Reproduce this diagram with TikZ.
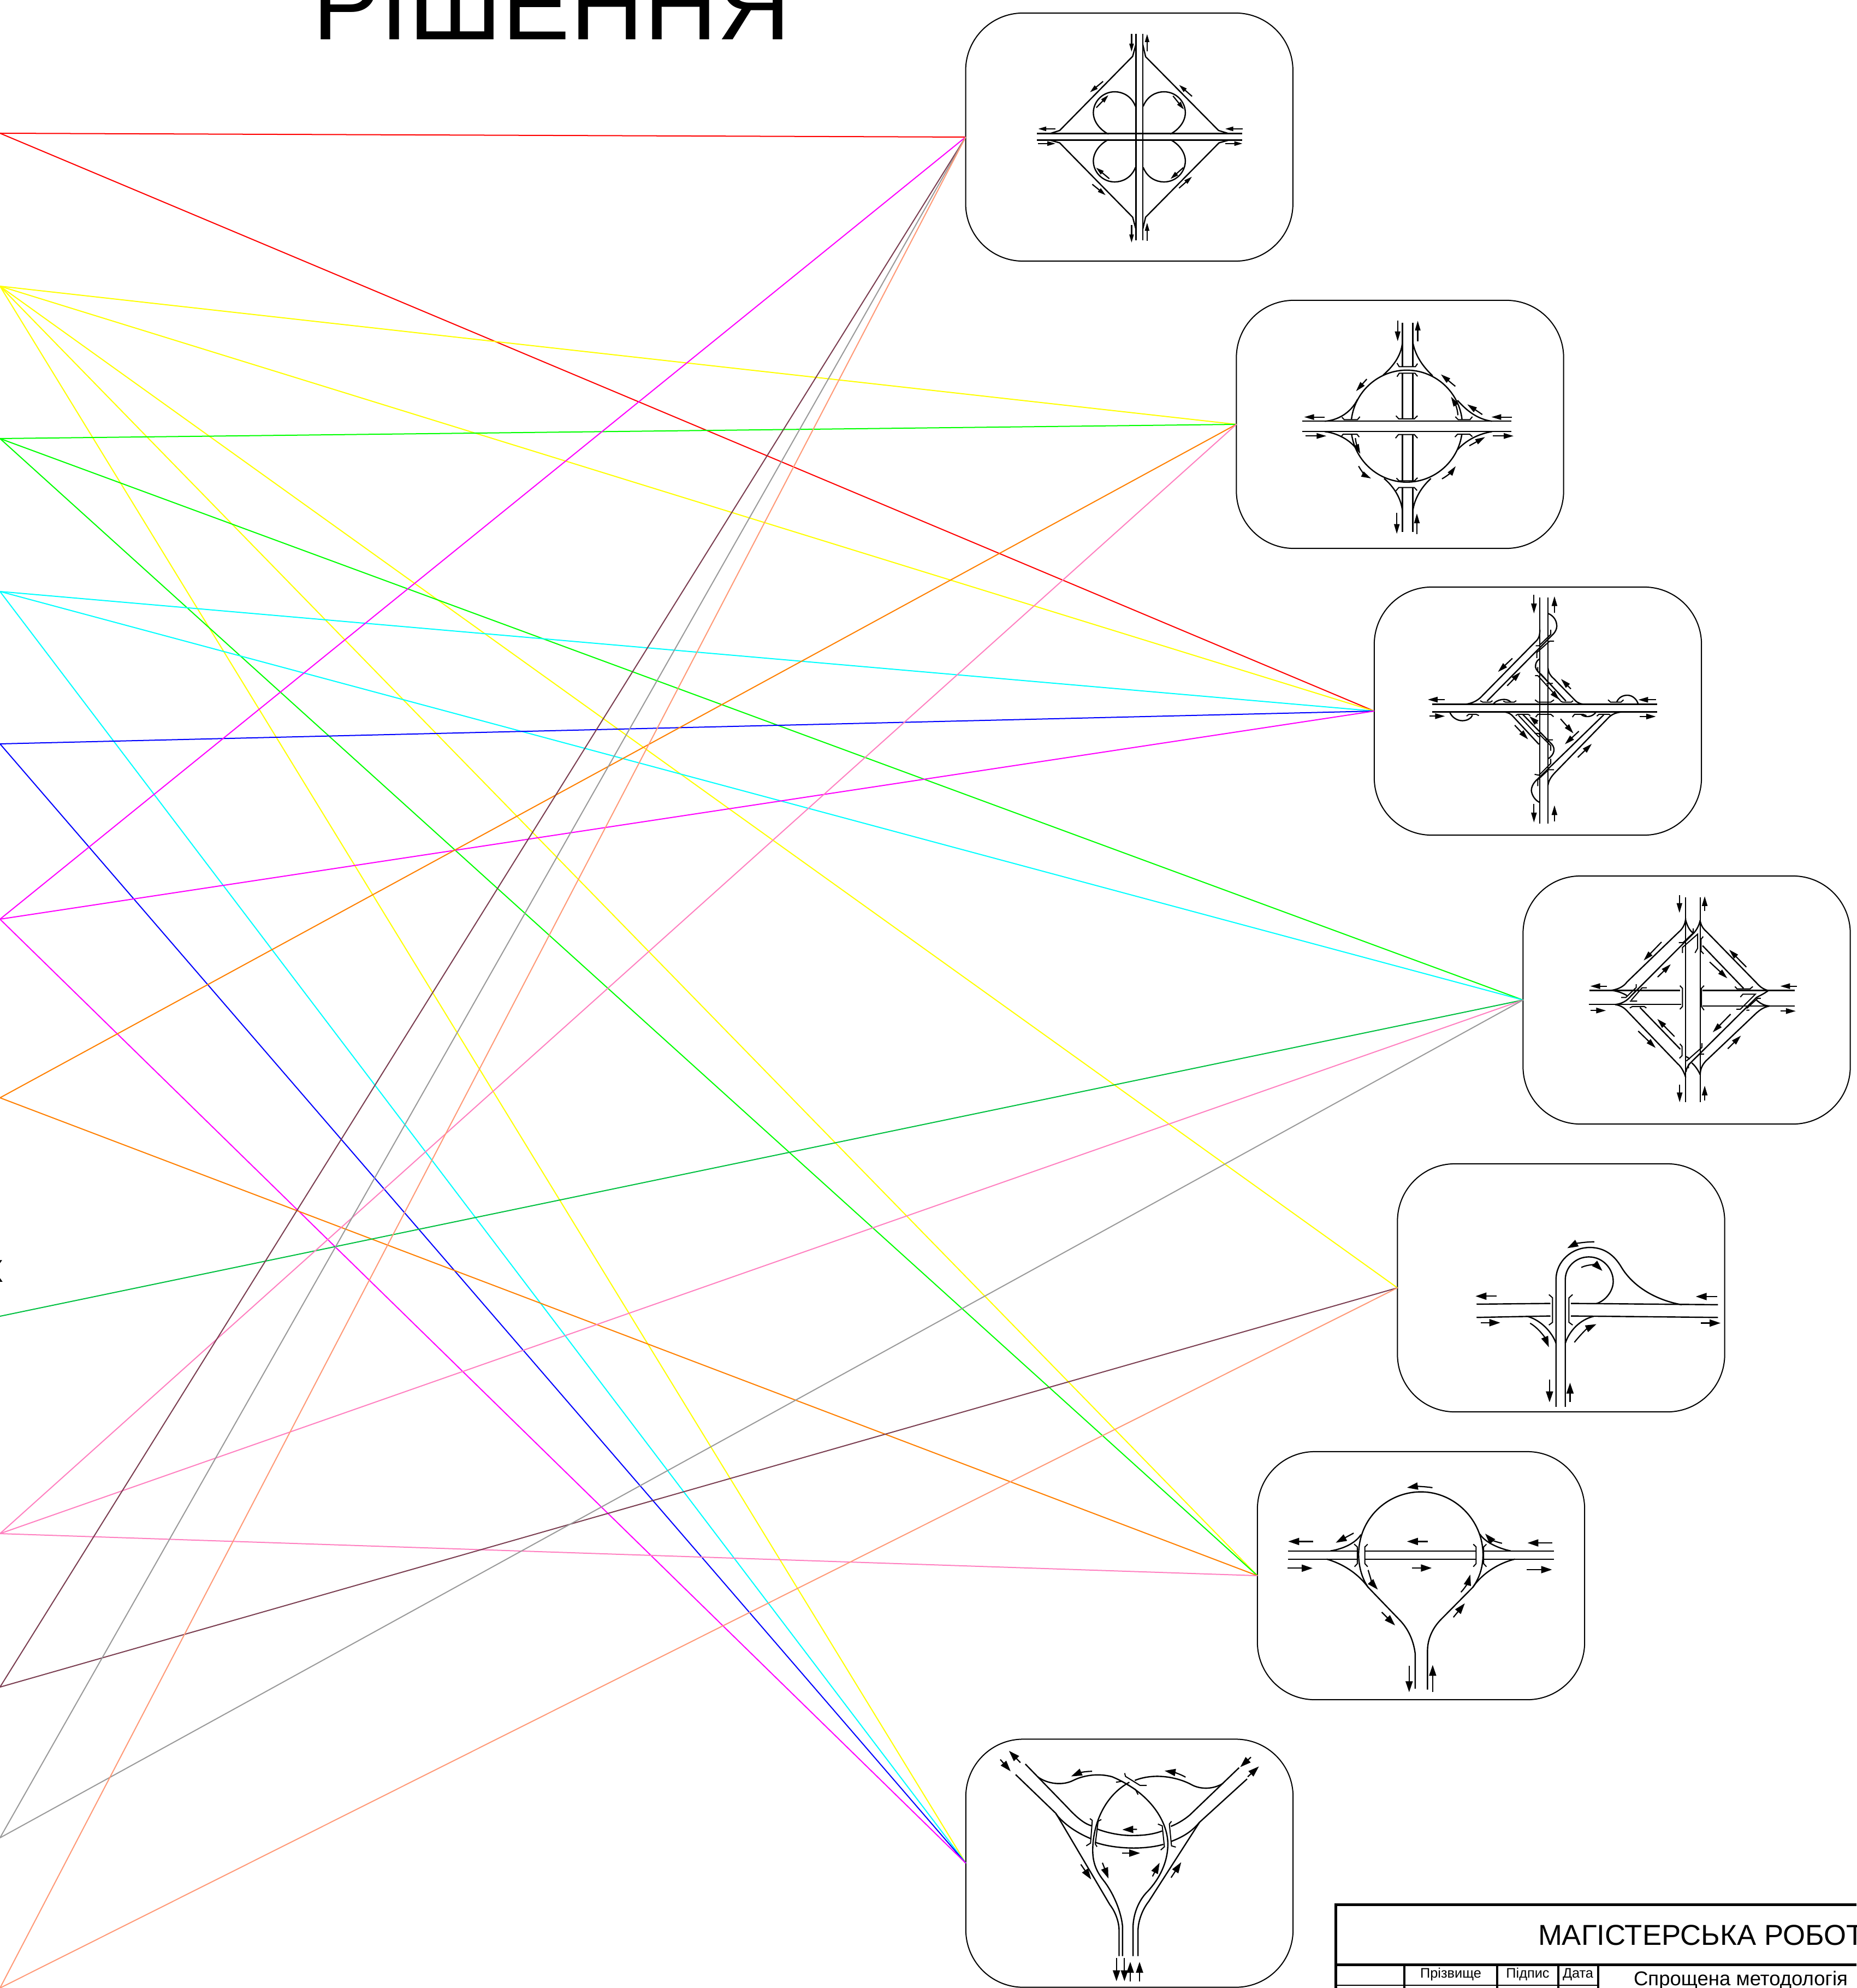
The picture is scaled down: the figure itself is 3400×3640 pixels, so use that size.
\documentclass[tikz,border=0pt]{standalone}
\usepackage{fontspec}
\setmainfont{Liberation Sans}
\usetikzlibrary{arrows.meta}
\definecolor{cRed}{HTML}{FF0000}
\definecolor{cYellow}{HTML}{FFFF00}
\definecolor{cGreen}{HTML}{00FF00}
\definecolor{cCyan}{HTML}{00FFFF}
\definecolor{cBlue}{HTML}{0000FF}
\definecolor{cMagenta}{HTML}{FF00FF}
\definecolor{cOrange}{HTML}{FF7F00}
\definecolor{cGreenD}{HTML}{00C040}
\definecolor{cPink}{HTML}{FF80C0}
\definecolor{cBrown}{HTML}{7A3D50}
\definecolor{cGray}{HTML}{999999}
\definecolor{cSalmon}{HTML}{FF9977}
\tikzset{
  link/.style={line width=0.02cm},
  panel/.style={draw=black,line width=0.02cm,rounded corners=1.05cm,minimum width=5.99cm,minimum height=4.54cm,inner sep=0pt,outer sep=0pt},
  zoomed/.style={x=0.003954cm,y=-0.003333cm},
  road/.style={draw=black,line width=0.024cm},
  thin road/.style={draw=black,line width=0.02cm},
  arS/.style={draw=black,line width=0.022cm,-{Triangle[length=0.15cm,width=0.08cm]}},
  arM/.style={draw=black,line width=0.022cm,-{Triangle[length=0.18cm,width=0.10cm]}},
  arL/.style={draw=black,line width=0.022cm,-{Triangle[length=0.2cm,width=0.13cm]}},
  lbl/.style={inner sep=0pt,outer sep=0pt,text=black},
  frame/.style={draw=black,line width=0.05cm},
}
\begin{document}
\begin{tikzpicture}[x=0.01cm,y=-0.01cm]
\useasboundingbox (0,0) rectangle (3400,3640);
\clip (0,0) rectangle (3400,3640);
% free ends on the left edge
\coordinate (sRed) at (0,244);
\coordinate (sYel) at (0,524);
\coordinate (sGrn) at (0,803);
\coordinate (sCya) at (0,1083);
\coordinate (sBlu) at (0,1362);
\coordinate (sMag) at (0,1683);
\coordinate (sOra) at (0,2010);
\coordinate (sGrD) at (0,2410);
\coordinate (sPnk) at (0,2808);
\coordinate (sBrn) at (0,3089);
\coordinate (sGry) at (0,3365);
\coordinate (sSal) at (0,3640);
% panels
\node[panel] (b1) at (2068.2,251) {};
\node[panel] (b2) at (2564,777) {};
\node[panel] (b3) at (2816.5,1302) {};
\node[panel] (b4) at (3089,1831) {};
\node[panel] (b5) at (2859,2358) {};
\node[panel] (b6) at (2602.5,2885) {};
\node[panel] (b7) at (2068.5,3411.5) {};
% connectors
\draw[link,cRed] (sRed)--(b1.west);
\draw[link,cRed] (sRed)--(b3.west);
\foreach \t in {b2,b3,b5,b6,b7} \draw[link,cYellow] (sYel)--(\t.west);
\foreach \t in {b2,b4,b6} \draw[link,cGreen] (sGrn)--(\t.west);
\foreach \t in {b3,b4,b7} \draw[link,cCyan] (sCya)--(\t.west);
\foreach \t in {b3,b7} \draw[link,cBlue] (sBlu)--(\t.west);
\foreach \t in {b1,b3,b7} \draw[link,cMagenta] (sMag)--(\t.west);
\foreach \t in {b2,b6} \draw[link,cOrange] (sOra)--(\t.west);
\draw[link,cGreenD] (sGrD)--(b4.west);
\foreach \t in {b2,b4,b6} \draw[link,cPink] (sPnk)--(\t.west);
\foreach \t in {b1,b5} \draw[link,cBrown] (sBrn)--(\t.west);
\foreach \t in {b1,b4} \draw[link,cGray] (sGry)--(\t.west);
\foreach \t in {b1,b5} \draw[link,cSalmon] (sSal)--(\t.west);
% title and stray letter
\node[lbl,anchor=base west,font=\fontsize{53.1pt}{60pt}\selectfont] (title) at (572,73) {РІШЕННЯ};
\node[lbl,anchor=base east,font=\fontsize{21.4pt}{24pt}\selectfont] (frag) at (6,2347) {х};
% ------------------ diagram 1
\begin{scope}[shift={(1760,0)},zoomed]
\draw[road] (810,185)--(810,1322) (842,185)--(842,1322) (352,735)--(1302,735) (352,771)--(1302,771);
\draw[road] (810,245)--(795,310)--(457,718)--(412,735);
\draw[road] (842,245)--(855,312)--(1193,718)--(1240,735);
\draw[road] (412,771)--(457,786)--(795,1195)--(810,1260);
\draw[road] (1240,771)--(1195,786)--(855,1195)--(842,1260);
\draw[road] (808,585) .. controls (790,530) and (750,505) .. (712,505) .. controls (655,505) and (613,560) .. (613,620) .. controls (613,670) and (645,715) .. (683,738);
\draw[road] (844,585) .. controls (862,530) and (902,505) .. (940,505) .. controls (997,505) and (1039,560) .. (1039,620) .. controls (1039,670) and (1007,715) .. (969,738);
\draw[road] (808,921) .. controls (790,976) and (750,1001) .. (712,1001) .. controls (655,1001) and (613,946) .. (613,886) .. controls (613,836) and (645,791) .. (683,768);
\draw[road] (844,921) .. controls (862,976) and (902,1001) .. (940,1001) .. controls (997,1001) and (1039,946) .. (1039,886) .. controls (1039,836) and (1007,791) .. (969,768);
\foreach \a/\b/\c/\d in {790/187/790/285,862/282/862/187,438/709/357/709,1304/709/1223/709,357/790/438/790,1223/790/1304/790,790/1238/790/1335,862/1325/862/1225,658/448/597/508,627/592/683/523,1070/530/1010/467,982/528/1033/603,608/1014/670/1074,687/983/625/922,1010/1035/1070/972,1030/922/970/985}
  \draw[arS] (\a,\b)--(\c,\d);
\end{scope}
% ------------------ diagram 2
\begin{scope}[shift={(2260,530)},zoomed]
\draw[road] (315,725)--(1285,725) (315,782)--(1285,782);
\draw[road] (780,183)--(780,425) (828,183)--(828,425) (780,461)--(780,712) (828,461)--(828,712) (780,798)--(780,1053) (828,798)--(828,1053) (780,1090)--(780,1335) (828,1090)--(828,1335);
\draw[road] (800,752) ++(187:258 and 308) arc[x radius=258,y radius=308,start angle=187,end angle=353];
\draw[road] (800,752) ++(172:258 and 308) arc[x radius=258,y radius=308,start angle=172,end angle=8];
\draw[road] (780,290) .. controls (775,370) and (730,430) .. (690,472);
\draw[road] (420,725) .. controls (480,720) and (540,680) .. (572,605);
\draw[road] (828,290) .. controls (840,370) and (880,430) .. (920,475);
\draw[road] (1195,725) .. controls (1130,715) and (1080,670) .. (1035,610);
\draw[road] (420,782) .. controls (480,790) and (540,830) .. (570,882);
\draw[road] (780,1220) .. controls (775,1150) and (740,1085) .. (695,1040);
\draw[road] (828,1220) .. controls (835,1150) and (870,1085) .. (912,1040);
\draw[road] (1195,782) .. controls (1130,795) and (1075,830) .. (1035,882);
\draw[thin road] (755,405)--(765,425)--(840,425)--(850,408) (755,480)--(765,461)--(838,461)--(850,478);
\draw[thin road] (750,695)--(763,712)--(835,712)--(850,695) (500,703)--(510,716)--(572,716)--(583,700) (1025,700)--(1038,716)--(1093,716)--(1104,700);
\draw[thin road] (748,818)--(762,798)--(835,798)--(850,818) (495,812)--(505,797)--(570,797)--(580,812) (1023,812)--(1035,797)--(1092,797)--(1104,810);
\draw[thin road] (752,1038)--(765,1053)--(835,1053)--(850,1036) (750,1108)--(763,1090)--(835,1090)--(848,1106);
\foreach \a/\b/\c/\d in {758/170/758/285,851/285/851/172,420/702/325/702,1288/702/1192/702,330/806/428/806,1198/806/1295/806,754/1228/754/1345,847/1345/847/1232,615/493/565/560,1025/533/958/467,1150/688/1080/632,1090/860/1163/812}
  \draw[arM] (\a,\b)--(\c,\d);
\draw[arM] (1037,692) .. controls (1035,650) and (1020,620) .. (1005,590);
\draw[arM] (562,818) .. controls (565,850) and (575,880) .. (585,905);
\draw[arM] (577,972) .. controls (590,1000) and (610,1025) .. (635,1040);
\draw[arM] (963,1042) .. controls (990,1025) and (1010,1000) .. (1027,972);
\end{scope}
% ------------------ diagram 3
\begin{scope}[shift={(2510,1060)},zoomed]
\draw[road] (784,103)--(784,1345) (822,103)--(822,1345) (285,690)--(1327,690) (285,732)--(1327,732);
\draw[road] (435,690) .. controls (480,685) and (505,660) .. (520,640) -- (760,350) .. controls (780,330) and (785,310) .. (784,280);
\draw[road] (540,672) -- (845,305) .. controls (862,285) and (865,260) .. (862,250) .. controls (860,225) and (845,200) .. (822,190);
\draw[thin road] (765,368)--(780,368)--(835,305)--(835,280) (770,435)--(770,405)--(830,342)--(850,342);
\draw[road] (822,490) .. controls (825,520) and (835,535) .. (850,550) -- (945,665) .. controls (960,685) and (975,690) .. (1005,690);
\draw[road] (905,672) -- (790,525) .. controls (770,505) and (760,490) .. (765,470) .. controls (768,455) and (775,445) .. (784,440);
\draw[thin road] (775,485)--(775,510)--(845,595) (762,532)--(775,532)--(880,670) (815,575)--(845,575);
\draw[thin road] (762,665)--(775,678)--(835,678)--(850,665) (508,670)--(520,678)--(555,678)--(565,670) (615,672)--(625,678)--(665,678)--(675,670) (880,672)--(890,678)--(930,678)--(938,670) (1100,665)--(1112,678)--(1160,678)--(1172,665);
\draw[road] (568,690) .. controls (580,665) and (630,650) .. (650,678);
\draw[road] (1140,678) .. controls (1150,650) and (1170,640) .. (1190,640) .. controls (1215,640) and (1235,665) .. (1240,690);
\draw[road] (367,732) .. controls (375,760) and (400,780) .. (425,780) .. controls (445,780) and (465,770) .. (472,750);
\draw[thin road] (445,755)--(455,745)--(490,745)--(502,752);
\draw[road] (620,732) .. controls (640,735) and (650,745) .. (655,750) -- (780,910);
\draw[road] (705,745) -- (840,910) .. controls (855,930) and (855,965) .. (822,990);
\draw[thin road] (672,752)--(682,745)--(730,745)--(740,752) (765,760)--(775,745)--(835,745)--(848,758) (760,850)--(778,850)--(835,918)--(835,945) (805,885)--(845,885) (685,750)--(780,870);
\draw[thin road] (935,760)--(945,745)--(985,745)--(1000,752) (1048,755)--(1058,745)--(1105,745)--(1112,752);
\draw[road] (975,745) .. controls (990,762) and (1025,765) .. (1045,732);
\draw[road] (1080,748) -- (775,1100) .. controls (750,1125) and (745,1150) .. (745,1165) .. controls (748,1195) and (765,1220) .. (784,1230);
\draw[road] (1165,732) .. controls (1130,735) and (1115,750) .. (1105,760) -- (855,1065) .. controls (835,1090) and (825,1110) .. (822,1135);
\draw[thin road] (760,1075)--(780,1080)--(835,1015)--(835,990) (775,1140)--(775,1105)--(825,1050)--(850,1050);
\foreach \a/\b/\c/\d in {757/88/757/190,852/185/852/95,345/664/265/664,1322/665/1240/665,272/755/345/755,1247/757/1322/757,757/1237/757/1340,852/1333/852/1245,657/437/590/512,633/588/695/512,928/605/882/550,845/628/875/665,668/805/730/883,773/795/735/755,880/770/940/850,965/838/900/910,960/982/1025/907}
  \draw[arM] (\a,\b)--(\c,\d);
\end{scope}
% ------------------ diagram 4
\begin{scope}[shift={(2780,1590)},zoomed]
\draw[road] (777,160)--(777,1285) (844,160)--(844,1285);
\draw[road] (330,671)--(752,671) (328,749)--(755,749) (855,672)--(1282,672) (855,757)--(1282,757);
\draw[thin road] (750,645)--(762,660)--(762,760)--(750,775) (862,645)--(850,660)--(850,760)--(862,780);
\draw[road] (432,671) .. controls (465,665) and (490,650) .. (505,625) -- (745,350) .. controls (760,335) and (775,310) .. (777,275);
\draw[road] (450,749) .. controls (480,745) and (505,730) .. (525,700) -- (815,355) .. controls (830,335) and (840,310) .. (844,285);
\draw[road] (777,285) .. controls (785,320) and (795,340) .. (810,355);
\draw[road] (432,671) .. controls (460,675) and (485,685) .. (505,700);
\draw[thin road] (478,710)--(500,710)--(548,655)--(548,637) (518,730)--(552,730) (525,725)--(575,657)--(597,657);
\draw[road] (844,290) .. controls (850,320) and (860,335) .. (875,350) -- (1105,630) .. controls (1120,650) and (1135,665) .. (1160,672);
\draw[road] (1160,672) .. controls (1140,690) and (1120,700) .. (1105,710) -- (795,1075) .. controls (785,1090) and (780,1105) .. (778,1120);
\draw[road] (855,425) -- (1045,660);
\draw[thin road] (1005,650)--(1015,663)--(1075,663)--(1088,650);
\draw[road] (1165,757) .. controls (1135,765) and (1120,780) .. (1105,795) -- (870,1060) .. controls (855,1080) and (845,1100) .. (844,1135);
\draw[road] (450,749) .. controls (480,755) and (495,770) .. (510,790) -- (740,1075) .. controls (760,1095) and (772,1130) .. (777,1150);
\draw[road] (565,765) -- (752,995);
\draw[thin road] (518,768)--(530,760)--(585,760)--(595,768) (750,965)--(760,980)--(760,1030)--(748,1045);
\draw[road] (844,1135) .. controls (835,1110) and (820,1085) .. (805,1070) (777,1035) .. controls (785,1038) and (790,1042) .. (795,1050);
\draw[thin road] (780,1060)--(852,985)--(852,962) (790,1100)--(790,1080)--(840,1022)--(862,1022);
\draw[thin road] (745,408)--(765,408)--(812,355)--(812,330) (762,465)--(762,435)--(832,362)--(832,440)--(820,465) (858,375)--(848,390)--(848,455)--(860,470);
\draw[thin road] (1030,708)--(1042,692)--(1100,692)--(1030,775)--(1012,775) (1058,780)--(1072,780) (1060,770)--(1110,715)--(1125,715);
\draw[road] (1105,725) .. controls (1125,745) and (1140,755) .. (1165,757);
\foreach \a/\b/\c/\d in {748/147/748/245,865/235/865/153,412/648/335/648,1292/648/1215/648,337/782/408/782,1217/785/1287/785,749/1190/749/1287,865/1278/865/1195,665/405/582/507,647/598/708/527,1058/543/978/447,888/515/970/605,985/802/902/902,972/992/1033/920,557/895/638/988,725/925/645/828}
  \draw[arM] (\a,\b)--(\c,\d);
\end{scope}
% ------------------ diagram 5
\begin{scope}[shift={(2550,2120)},zoomed]
\draw[road] (758,1370)--(758,670) .. controls (758,570) and (830,493) .. (915,493) .. controls (985,493) and (1030,540) .. (1060,600) .. controls (1110,700) and (1210,780) .. (1340,808);
\draw[road] (801,1370)--(801,670) .. controls (801,600) and (850,545) .. (910,545) .. controls (975,545) and (1023,610) .. (1023,680) .. controls (1023,730) and (990,785) .. (945,802);
\draw[road] (390,805)--(732,801) (390,878)--(732,870) (827,801)--(945,802)--(1508,808) (827,870)--(1508,878);
\draw[road] (628,873) .. controls (690,895) and (740,960) .. (758,1020);
\draw[road] (932,872) .. controls (870,890) and (820,950) .. (801,1020);
\draw[thin road] (725,752)--(742,770)--(742,905)--(725,920) (835,752)--(818,770)--(818,905)--(835,920);
\foreach \a/\b/\c/\d in {483/761/385/761,1505/763/1405/763,410/907/500/907,1430/909/1520/909,728/1220/728/1345,823/1342/823/1237}
  \draw[arL] (\a,\b)--(\c,\d);
\draw[arL] (935,462) .. controls (890,462) and (850,472) .. (810,497);
\draw[arL] (875,603) .. controls (905,585) and (945,590) .. (973,622);
\draw[arL] (638,910) .. controls (675,935) and (705,985) .. (725,1042);
\draw[arL] (843,1015) .. controls (870,975) and (900,940) .. (945,915);
\end{scope}
% ------------------ diagram 6
\begin{scope}[shift={(2300,2650)},zoomed]
\draw[road] (738,1328)--(738,1135) .. controls (730,1060) and (705,1000) .. (670,955) -- (520,770) .. controls (490,720) and (476,650) .. (476,590) .. controls (476,390) and (610,245) .. (765,245) .. controls (920,245) and (1052,400) .. (1052,590) .. controls (1052,660) and (1035,720) .. (1005,770) -- (855,950) .. controls (815,1000) and (795,1060) .. (795,1120)--(795,1333);
\draw[road] (150,570)--(468,570) (150,615)--(468,615) (505,570)--(1020,570) (505,615)--(1020,615) (1058,570)--(1380,570) (1058,615)--(1380,615);
\draw[thin road] (455,532)--(470,548)--(470,640)--(457,657) (518,533)--(505,548)--(505,640)--(518,657) (1007,533)--(1020,548)--(1020,640)--(1007,657) (1068,533)--(1055,548)--(1055,640)--(1068,657);
\draw[road] (345,570) .. controls (400,560) and (460,530) .. (487,480);
\draw[road] (328,615) .. controls (400,640) and (470,690) .. (520,770);
\draw[road] (1180,570) .. controls (1120,555) and (1060,520) .. (1038,478);
\draw[road] (1200,615) .. controls (1130,635) and (1050,690) .. (1005,770);
\foreach \a/\b/\c/\d in {265/518/150/518,1372/526/1258/526,147/665/263/665,1255/673/1372/673,797/518/700/518,723/664/815/664,710/1202/710/1347,819/1345/819/1197,453/472/370/525,583/907/645/980,915/935/968/858}
  \draw[arL] (\a,\b)--(\c,\d);
\draw[arL] (1140,528) .. controls (1110,520) and (1085,505) .. (1062,475);
\draw[arL] (520,675) .. controls (530,715) and (540,750) .. (565,783);
\draw[arL] (950,797) .. controls (975,765) and (985,735) .. (993,700);
\draw[arL] (818,222) .. controls (780,215) and (740,215) .. (700,222);
\end{scope}
% ------------------ diagram 7
\begin{scope}[shift={(1760,3180)},zoomed]
\draw[road] (253,208)--(440,422)--(690,925) .. controls (720,970) and (732,1030) .. (732,1060)--(732,1207);
\draw[road] (298,150)--(490,385) .. controls (540,450) and (575,480) .. (605,490);
\draw[road] (630,507) .. controls (690,535) and (760,545) .. (800,543) .. controls (850,543) and (895,535) .. (932,518);
\draw[road] (972,493) .. controls (1010,475) and (1040,450) .. (1060,430)--(1288,170);
\draw[road] (440,425) .. controls (480,485) and (540,530) .. (600,560);
\draw[road] (620,580) .. controls (680,605) and (750,612) .. (800,612) .. controls (850,612) and (900,605) .. (937,592);
\draw[road] (975,575) .. controls (1030,550) and (1070,520) .. (1105,470)--(1325,232);
\draw[road] (1105,470) -- (870,905) .. controls (840,950) and (822,1010) .. (820,1060)--(820,1207);
\draw[road] (748,1207)--(748,1040) .. controls (740,950) and (700,850) .. (660,790) .. controls (620,730) and (610,680) .. (610,620) .. controls (612,470) and (670,320) .. (780,250);
\draw[road] (797,1207)--(797,1040) .. controls (800,960) and (830,890) .. (865,850) .. controls (920,780) and (958,690) .. (958,590) .. controls (958,470) and (880,310) .. (700,220) .. controls (640,200) and (570,210) .. (520,240) .. controls (470,270) and (400,260) .. (355,220);
\draw[road] (1215,255) .. controls (1170,290) and (1110,290) .. (1070,265) .. controls (1010,225) and (900,195) .. (805,240);
\draw[thin road] (597,450)--(608,460)--(600,585)--(580,600) (650,455)--(635,465)--(622,590)--(630,605) (912,480)--(932,490)--(942,605)--(925,623) (975,465)--(965,480)--(975,600)--(995,607);
\draw[thin road] (758,200)--(762,218)--(830,268)--(860,268) (718,250)--(745,245)--(808,290)--(820,318);
\foreach \a/\b/\c/\d in {275/142/222/77,182/125/230/190,1343/112/1293/167,1328/220/1380/163,815/509/747/511,746/640/830/640,555/702/603/785,655/693/683/780,887/768/920/693,973/775/1020/690,720/1218/720/1345,757/1218/757/1345,784/1345/784/1238,827/1345/827/1238}
  \draw[arL] (\a,\b)--(\c,\d);
\draw[arL] (607,190) .. controls (570,190) and (545,200) .. (510,218);
\draw[arL] (1040,222) .. controls (1015,205) and (985,195) .. (943,187);
\end{scope}
% ------------------ title block
\draw[frame] (3400,3487)--(2446,3487)--(2446,3640);
\draw[frame] (2446,3597)--(3400,3597);
\draw[line width=0.035cm] (2572,3597)--(2572,3640) (2742,3597)--(2742,3640) (2854,3597)--(2854,3640) (2927,3597)--(2927,3640);
\draw[line width=0.025cm] (2446,3635)--(2927,3635);
\node[lbl,anchor=base west,font=\fontsize{15pt}{18pt}\selectfont] (tbA) at (2817,3561) {МАГІСТЕРСЬКА РОБОТА};
\node[lbl,font=\fontsize{7.2pt}{9pt}\selectfont] (tbB) at (2657,3615) {Прізвище};
\node[lbl,font=\fontsize{7.2pt}{9pt}\selectfont] (tbC) at (2798,3615) {Підпис};
\node[lbl,font=\fontsize{7.2pt}{9pt}\selectfont] (tbD) at (2890,3615) {Дата};
\node[lbl,anchor=base west,font=\fontsize{10.4pt}{12pt}\selectfont] (tbE) at (2992,3635) {Спрощена методологія};
\end{tikzpicture}
\end{document}
